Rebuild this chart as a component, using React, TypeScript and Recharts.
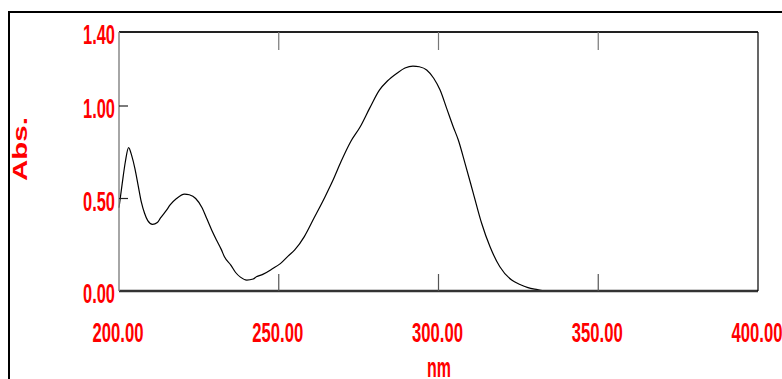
import { LineChart, Line, XAxis, YAxis } from "recharts";

// wavelength (nm) and absorbance
const wavelengths = [
  200, 201, 202, 203, 204, 205, 206, 207, 208, 209, 210.5, 212, 213, 215, 216, 218,
  220.5, 222, 224, 226, 227.5, 229, 230.5, 232, 233, 235, 236.5, 238, 240, 242, 243,
  245, 248, 250.5, 253, 255, 258, 261, 264.5, 267, 269.5, 272.5, 275.5, 278.5, 281.5,
  284, 287, 289.5, 292, 294, 296.3, 298.5, 300.5, 302.5, 304.6, 306.2, 308.3, 310.9,
  313.5, 316.1, 319.2, 322.9, 325.5, 328, 331, 333, 340, 360, 380, 400,
];
const absorbance = [
  0.45, 0.58, 0.7, 0.775, 0.73, 0.66, 0.57, 0.48, 0.42, 0.38, 0.36, 0.37, 0.395, 0.44,
  0.465, 0.5, 0.524, 0.52, 0.5, 0.45, 0.39, 0.33, 0.276, 0.225, 0.185, 0.14, 0.1, 0.075,
  0.059, 0.065, 0.077, 0.09, 0.12, 0.148, 0.19, 0.222, 0.294, 0.393, 0.51, 0.6, 0.7,
  0.807, 0.888, 0.99, 1.086, 1.135, 1.177, 1.205, 1.216, 1.212, 1.195, 1.15, 1.086,
  0.99, 0.888, 0.816, 0.69, 0.528, 0.366, 0.24, 0.131, 0.059, 0.035, 0.018, 0.007, 0,
  -0.003, -0.004, -0.004, -0.004,
];

const xTicks = [200, 250, 300, 350, 400];
const yTicks = [0, 0.5, 1.0, 1.4];
const xTitle = "nm";
const yTitle = "Abs.";

const data = wavelengths.map((nm, i) => ({ nm, abs: absorbance[i] }));

const RED = "#ff0000";
const NARROW = "'Liberation Sans Narrow', 'Liberation Sans', Arial, sans-serif";

const BottomTick = (props: any) => {
  const { x, y, payload } = props;
  const v = payload.value;
  return (
    <g>
      {v > 200 && v < 400 && (
        <line x1={x} y1={y} x2={x} y2={y - 17} stroke="#555" strokeWidth={1.2} />
      )}
      <text
        x={x - 1}
        y={y + 51}
        textAnchor="middle"
        fill={RED}
        fontFamily={NARROW}
        fontWeight="bold"
        fontSize={28}
        textLength={51}
        lengthAdjust="spacingAndGlyphs"
      >
        {v.toFixed(2)}
      </text>
    </g>
  );
};

const TopTick = (props: any) => {
  const { x, y, payload } = props;
  const v = payload.value;
  if (v <= 200 || v >= 400) return <g />;
  return <line x1={x} y1={y} x2={x} y2={y + 18} stroke="#777" strokeWidth={1.2} />;
};

const LeftTick = (props: any) => {
  const { x, y, payload } = props;
  const v = payload.value;
  return (
    <g>
      {v > 0 && v < 1.4 && (
        <line x1={x} y1={y} x2={x + 9} y2={y} stroke="#222" strokeWidth={1.2} />
      )}
      <text
        x={x - 4}
        y={y + 12}
        textAnchor="end"
        fill={RED}
        fontFamily={NARROW}
        fontWeight="bold"
        fontSize={28}
        textLength={32}
        lengthAdjust="spacingAndGlyphs"
      >
        {v.toFixed(2)}
      </text>
    </g>
  );
};

const RightTick = (props: any) => {
  const { x, y, payload } = props;
  const v = payload.value;
  if (v <= 0 || v >= 1.4) return <g />;
  return <line x1={x} y1={y} x2={x - 8} y2={y} stroke="#222" strokeWidth={1.2} />;
};

export default function App() {
  return (
    <div style={{ position: "absolute", left: 0, top: 0, width: 782, height: 379, background: "#fff" }}>
      <div
        style={{
          position: "absolute",
          left: 8,
          top: 11,
          width: 774,
          height: 368,
          borderLeft: "2px solid #000",
          borderTop: "2px solid #000",
        }}
      />
      <div style={{ position: "absolute", left: 0, top: 0 }}>
        <LineChart width={782} height={379} data={data} margin={{ top: 22, right: 14, left: 79, bottom: 78 }}>
          <XAxis
            dataKey="nm"
            type="number"
            domain={[200, 400]}
            ticks={xTicks}
            height={10}
            tickSize={0}
            tickMargin={0}
            axisLine={{ stroke: "#333", strokeWidth: 2.5 }}
            tick={<BottomTick />}
            interval={0}
          />
          <XAxis
            xAxisId="top"
            orientation="top"
            dataKey="nm"
            type="number"
            domain={[200, 400]}
            ticks={xTicks}
            height={10}
            tickSize={0}
            tickMargin={0}
            axisLine={{ stroke: "#222", strokeWidth: 2 }}
            tick={<TopTick />}
            interval={0}
          />
          <YAxis
            type="number"
            domain={[0, 1.4]}
            ticks={yTicks}
            width={40}
            tickSize={0}
            tickMargin={0}
            axisLine={{ stroke: "#888", strokeWidth: 1.5 }}
            tick={<LeftTick />}
            interval={0}
            allowDataOverflow
          />
          <YAxis
            yAxisId="right"
            orientation="right"
            type="number"
            domain={[0, 1.4]}
            ticks={yTicks}
            width={10}
            tickSize={0}
            tickMargin={0}
            axisLine={{ stroke: "#000", strokeWidth: 1.2 }}
            tick={<RightTick />}
            interval={0}
          />
          <Line
            type="monotone"
            dataKey="abs"
            stroke="#000"
            strokeWidth={1.2}
            dot={false}
            isAnimationActive={false}
          />
        </LineChart>
      </div>
      <svg
        width={782}
        height={379}
        style={{ position: "absolute", left: 0, top: 0, pointerEvents: "none" }}
      >
        <text
          transform="translate(27, 149) rotate(-90)"
          textAnchor="middle"
          fill={RED}
          fontFamily="'Liberation Sans', Arial, sans-serif"
          fontWeight="bold"
          fontSize={20}
          textLength={64}
          lengthAdjust="spacingAndGlyphs"
        >
          {yTitle}
        </text>
        <text
          x={439}
          y={377}
          textAnchor="middle"
          fill={RED}
          fontFamily={NARROW}
          fontWeight="bold"
          fontSize={28}
          textLength={24}
          lengthAdjust="spacingAndGlyphs"
        >
          {xTitle}
        </text>
      </svg>
    </div>
  );
}
